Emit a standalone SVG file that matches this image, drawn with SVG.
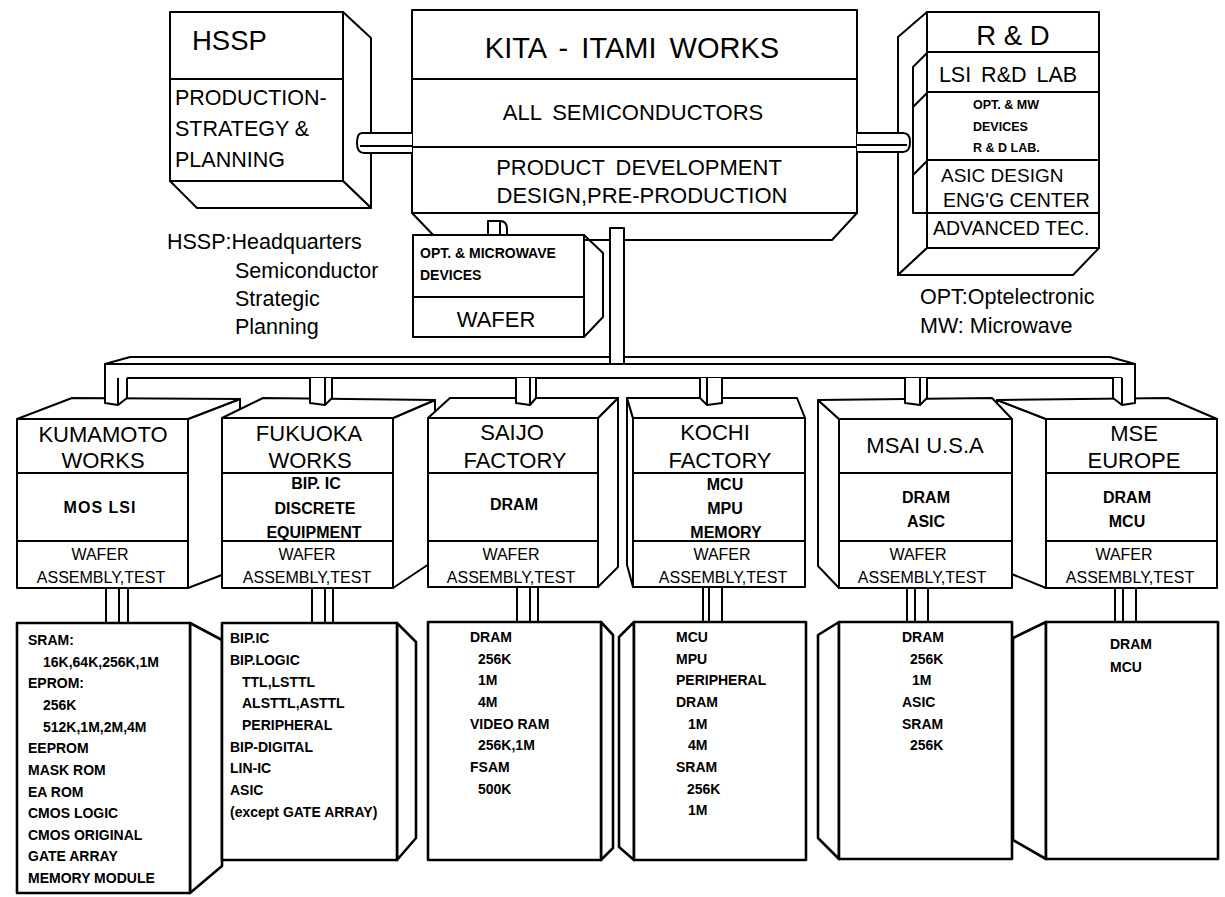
<svg xmlns="http://www.w3.org/2000/svg" width="1225" height="897" viewBox="0 0 1225 897">
<style>
.s{fill:#fff;stroke:#000;stroke-width:2;stroke-linejoin:round}
.n{fill:none;stroke:#000;stroke-width:2;stroke-linejoin:round}
.th{fill:#fff;stroke:#000;stroke-width:2.6;stroke-linejoin:round}
text{font-family:"Liberation Sans",Arial,sans-serif;fill:#000}
.c{text-anchor:middle}
.b{font-weight:bold}
.t22{font-size:22px}
.m16{font-size:16px;font-weight:bold}
.w16{font-size:16px}
.l14{font-size:14px;font-weight:bold}
.lg{font-size:21.5px}
</style>
<rect width="1225" height="897" fill="#fff"/>

<g id="hssp">
<polygon class="s" points="343,12 371,38 371,208 343,181"/>
<polygon class="s" points="170,181 197,208 371,208 343,181"/>
<rect class="s" x="170" y="12" width="173" height="169"/>
<line class="n" x1="170" y1="79" x2="343" y2="79"/>
<text x="192" y="50" font-size="27.5">HSSP</text>
<text x="175" y="105" font-size="21.5">PRODUCTION-</text>
<text x="175" y="136" font-size="21.5">STRATEGY &amp;</text>
<text x="175" y="167" font-size="21.5">PLANNING</text>
</g>

<g id="kita">
<polygon class="s" points="412,213 857,213 832,240 438,240"/>
<rect class="s" x="412" y="10" width="445" height="203"/>
<line class="n" x1="412" y1="79" x2="857" y2="79"/>
<line class="n" x1="412" y1="147" x2="857" y2="147"/>
<text class="c" x="632" y="58" font-size="29" style="word-spacing:5px">KITA - ITAMI WORKS</text>
<text class="c" x="633" y="120" font-size="22" style="word-spacing:5px">ALL SEMICONDUCTORS</text>
<text class="c" x="639" y="175" font-size="22" style="word-spacing:5px">PRODUCT DEVELOPMENT</text>
<text class="c" x="642" y="203" font-size="22">DESIGN,PRE-PRODUCTION</text>
</g>

<g id="rd">
<polygon class="s" points="927,12 898,37 898,275 927,248"/>
<polygon class="s" points="927,248 1099,248 1073,275 898,275"/>
<path class="n" d="M927,53 L913,67 V213 H927 M913,107 L927,93 M913,175 L927,161"/>
<rect class="s" x="927" y="12" width="172" height="236"/>
<line class="n" x1="927" y1="52" x2="1099" y2="52"/>
<line class="n" x1="927" y1="92" x2="1099" y2="92"/>
<line class="n" x1="927" y1="160" x2="1099" y2="160"/>
<line class="n" x1="927" y1="213" x2="1099" y2="213"/>
<text class="c" x="1013" y="45" font-size="27.5">R &amp; D</text>
<text class="c" x="1008" y="82" font-size="21.5" style="word-spacing:4px">LSI R&amp;D LAB</text>
<text x="973" y="109" font-size="12.5" class="b">OPT. &amp; MW</text>
<text x="973" y="131" font-size="12.5" class="b">DEVICES</text>
<text x="973" y="152" font-size="12.5" class="b">R &amp; D LAB.</text>
<text x="941" y="182" font-size="19">ASIC DESIGN</text>
<text x="943" y="207" font-size="19.5">ENG'G CENTER</text>
<text x="933" y="235" font-size="19.5">ADVANCED TEC.</text>
</g>

<g id="opt-wafer">
<polygon class="n" points="584,235 603,253 603,317 584,337"/>
<path class="s" d="M488,235 V221 H500 Q507,221 507,229 V235 M500,221 V235"/>
<rect class="s" x="413" y="235" width="171" height="102"/>
<line class="n" x1="413" y1="297" x2="584" y2="297"/>
<text x="420" y="258" class="l14" font-size="13.5">OPT. &amp; MICROWAVE</text>
<text x="420" y="280" class="l14">DEVICES</text>
<text class="c" x="496" y="327" font-size="22">WAFER</text>
</g>

<g id="legend-hssp">
<text x="167" y="249" class="lg">HSSP:Headquarters</text>
<text x="235" y="278" class="lg">Semiconductor</text>
<text x="235" y="306" class="lg">Strategic</text>
<text x="235" y="334" class="lg">Planning</text>
</g>
<g id="legend-opt">
<text x="920" y="304" class="lg">OPT:Optelectronic</text>
<text x="920" y="333" class="lg">MW: Microwave</text>
</g>

<g id="kumamoto">
<polygon class="s" points="188,419 240,399 240,568 188,588"/>
<polygon class="s" points="17,419 72,398 240,399 188,419"/>
<rect class="s" x="17" y="419" width="171" height="169"/>
<line class="n" x1="17" y1="473" x2="188" y2="473"/>
<line class="n" x1="17" y1="541" x2="188" y2="541"/>
<text class="c t22" x="103" y="442">KUMAMOTO</text>
<text class="c t22" x="103" y="468">WORKS</text>
<text class="c m16" x="100" y="513" style="letter-spacing:1px">MOS LSI</text>
<text class="c w16" x="100" y="560">WAFER</text>
<text class="c w16" x="101" y="583">ASSEMBLY,TEST</text>
</g>
<g id="fukuoka">
<polygon class="s" points="393,418 435,400 435,560 393,588"/>
<polygon class="s" points="222,418 263,398 435,400 393,418"/>
<rect class="s" x="222" y="418" width="171" height="170"/>
<line class="n" x1="222" y1="473" x2="393" y2="473"/>
<line class="n" x1="222" y1="541" x2="393" y2="541"/>
<text class="c t22" x="309" y="441">FUKUOKA</text>
<text class="c t22" x="310" y="468">WORKS</text>
<text class="c m16" x="316" y="489">BIP. IC</text>
<text class="c m16" x="315" y="514">DISCRETE</text>
<text class="c m16" x="314" y="538">EQUIPMENT</text>
<text class="c w16" x="307" y="560">WAFER</text>
<text class="c w16" x="307" y="583">ASSEMBLY,TEST</text>
</g>
<g id="saijo">
<polygon class="s" points="598,418 618,398 618,567 598,587"/>
<polygon class="s" points="428,418 450,398 618,398 598,418"/>
<rect class="s" x="428" y="418" width="170" height="169"/>
<line class="n" x1="428" y1="473" x2="598" y2="473"/>
<line class="n" x1="428" y1="541" x2="598" y2="541"/>
<text class="c t22" x="512" y="440">SAIJO</text>
<text class="c t22" x="515" y="468">FACTORY</text>
<text class="c m16" x="514" y="510">DRAM</text>
<text class="c w16" x="511" y="560">WAFER</text>
<text class="c w16" x="511" y="583">ASSEMBLY,TEST</text>
</g>
<g id="mse">
<polygon class="s" points="997,400 1046,419 1046,588 997,568"/>
<polygon class="s" points="1046,419 997,400 1168,398 1217,419"/>
<rect class="s" x="1046" y="419" width="171" height="169"/>
<line class="n" x1="1046" y1="473" x2="1217" y2="473"/>
<line class="n" x1="1046" y1="541" x2="1217" y2="541"/>
<text class="c t22" x="1134" y="441">MSE</text>
<text class="c t22" x="1134" y="468">EUROPE</text>
<text class="c m16" x="1127" y="503">DRAM</text>
<text class="c m16" x="1127" y="527">MCU</text>
<text class="c w16" x="1124" y="560">WAFER</text>
<text class="c w16" x="1130" y="583">ASSEMBLY,TEST</text>
</g>
<g id="msai">
<polygon class="s" points="818,400 839,419 839,588 818,566"/>
<polygon class="s" points="839,419 818,400 992,398 1012,419"/>
<rect class="s" x="839" y="419" width="173" height="169"/>
<line class="n" x1="839" y1="473" x2="1012" y2="473"/>
<line class="n" x1="839" y1="541" x2="1012" y2="541"/>
<text class="c t22" x="925" y="453">MSAI U.S.A</text>
<text class="c m16" x="926" y="503">DRAM</text>
<text class="c m16" x="926" y="527">ASIC</text>
<text class="c w16" x="918" y="560">WAFER</text>
<text class="c w16" x="922" y="583">ASSEMBLY,TEST</text>
</g>
<g id="kochi">
<polygon class="s" points="627,398 633,418 633,587 627,565"/>
<polygon class="s" points="633,418 627,398 797,398 805,418"/>
<rect class="s" x="633" y="418" width="172" height="169"/>
<line class="n" x1="633" y1="473" x2="805" y2="473"/>
<line class="n" x1="633" y1="541" x2="805" y2="541"/>
<text class="c t22" x="715" y="440">KOCHI</text>
<text class="c t22" x="720" y="468">FACTORY</text>
<text class="c m16" x="725" y="490">MCU</text>
<text class="c m16" x="725" y="514">MPU</text>
<text class="c m16" x="726" y="538">MEMORY</text>
<text class="c w16" x="722" y="560">WAFER</text>
<text class="c w16" x="723" y="583">ASSEMBLY,TEST</text>
</g>

<g id="list-kumamoto">
<polygon class="th" points="190,623 222,640 222,866 190,893"/>
<rect class="th" x="17" y="623" width="173" height="270"/>
<g class="l14">
<text x="28" y="645">SRAM:</text>
<text x="43" y="667">16K,64K,256K,1M</text>
<text x="28" y="688">EPROM:</text>
<text x="43" y="710">256K</text>
<text x="43" y="732">512K,1M,2M,4M</text>
<text x="28" y="753">EEPROM</text>
<text x="28" y="775">MASK ROM</text>
<text x="28" y="797">EA ROM</text>
<text x="28" y="818">CMOS LOGIC</text>
<text x="28" y="840">CMOS ORIGINAL</text>
<text x="28" y="861">GATE ARRAY</text>
<text x="28" y="883">MEMORY MODULE</text>
</g>
</g>
<g id="list-fukuoka">
<polygon class="th" points="397,623 416,642 416,838 397,860"/>
<rect class="th" x="222" y="623" width="175" height="237"/>
<g class="l14">
<text x="230" y="643">BIP.IC</text>
<text x="230" y="665">BIP.LOGIC</text>
<text x="242" y="687">TTL,LSTTL</text>
<text x="242" y="708">ALSTTL,ASTTL</text>
<text x="242" y="730">PERIPHERAL</text>
<text x="230" y="752">BIP-DIGITAL</text>
<text x="230" y="773">LIN-IC</text>
<text x="230" y="795">ASIC</text>
<text x="230" y="817">(except GATE ARRAY)</text>
</g>
</g>
<g id="list-saijo">
<polygon class="th" points="601,622 613,635 613,848 601,860"/>
<rect class="th" x="428" y="622" width="173" height="238"/>
<g class="l14">
<text x="470" y="642">DRAM</text>
<text x="478" y="664">256K</text>
<text x="478" y="685">1M</text>
<text x="478" y="707">4M</text>
<text x="470" y="729">VIDEO RAM</text>
<text x="478" y="750">256K,1M</text>
<text x="470" y="772">FSAM</text>
<text x="478" y="794">500K</text>
</g>
</g>
<g id="list-mse">
<polygon class="th" points="1046,622 1013,638 1013,840 1046,859"/>
<rect class="th" x="1046" y="622" width="172" height="237"/>
<g class="l14">
<text x="1110" y="649">DRAM</text>
<text x="1110" y="672">MCU</text>
</g>
</g>
<g id="list-msai">
<polygon class="th" points="839,622 818,635 818,838 839,859"/>
<rect class="th" x="839" y="622" width="173" height="237"/>
<g class="l14">
<text x="902" y="642">DRAM</text>
<text x="910" y="664">256K</text>
<text x="912" y="685">1M</text>
<text x="902" y="707">ASIC</text>
<text x="902" y="729">SRAM</text>
<text x="910" y="750">256K</text>
</g>
</g>
<g id="list-kochi">
<polygon class="th" points="634,622 619,637 619,847 634,860"/>
<rect class="th" x="634" y="622" width="172" height="238"/>
<g class="l14">
<text x="676" y="642">MCU</text>
<text x="676" y="664">MPU</text>
<text x="676" y="685">PERIPHERAL</text>
<text x="676" y="707">DRAM</text>
<text x="688" y="729">1M</text>
<text x="688" y="750">4M</text>
<text x="676" y="772">SRAM</text>
<text x="687" y="794">256K</text>
<text x="688" y="815">1M</text>
</g>
</g>

<g id="connectors">
<path class="s" d="M412,133 H362 Q357,133 357,143 Q357,153 364,153 H412"/>
<line class="n" x1="360" y1="146" x2="412" y2="146"/>
<path class="s" d="M857,133 H903 Q910,133 910,142 Q910,152 903,152 H857"/>
<line class="n" x1="857" y1="145" x2="907" y2="145"/>
<path class="n" d="M105,403 V364 L130,357 H1110 L1135,364 V403"/>
<line class="n" x1="105" y1="364" x2="1135" y2="364"/>
<line class="n" x1="127" y1="378" x2="1122" y2="378"/>
<rect class="s" x="610" y="228" width="14" height="136"/>
<path class="s" d="M105,378 V403 L118,405 L127,398 V378"/><line class="n" x1="118" y1="378" x2="118" y2="405"/>
<path class="s" d="M310,378 V403 L325,405 L332,398 V378"/><line class="n" x1="325" y1="378" x2="325" y2="405"/>
<path class="s" d="M516,378 V403 L530,405 L536,398 V378"/><line class="n" x1="530" y1="378" x2="530" y2="405"/>
<path class="s" d="M700,378 V398 L707,405 L722,403 V378"/><line class="n" x1="707" y1="378" x2="707" y2="405"/>
<path class="s" d="M905,378 V403 L920,405 L927,398 V378"/><line class="n" x1="920" y1="378" x2="920" y2="405"/>
<path class="s" d="M1113,378 V398 L1122,405 L1135,403 V378"/><line class="n" x1="1122" y1="378" x2="1122" y2="405"/>
<path class="n" d="M106,589 V622 M119,589 V622 M128,589 V622"/>
<path class="n" d="M312,589 V622 M325,589 V622 M333,589 V622"/>
<path class="n" d="M517,588 V621 M530,588 V621 M538,588 V621"/>
<path class="n" d="M703,588 V621 M709,588 V621 M722,588 V621"/>
<path class="n" d="M907,589 V621 M915,589 V621 M928,589 V621"/>
<path class="n" d="M1115,589 V621 M1123,589 V621 M1136,589 V621"/>
</g>
</svg>
